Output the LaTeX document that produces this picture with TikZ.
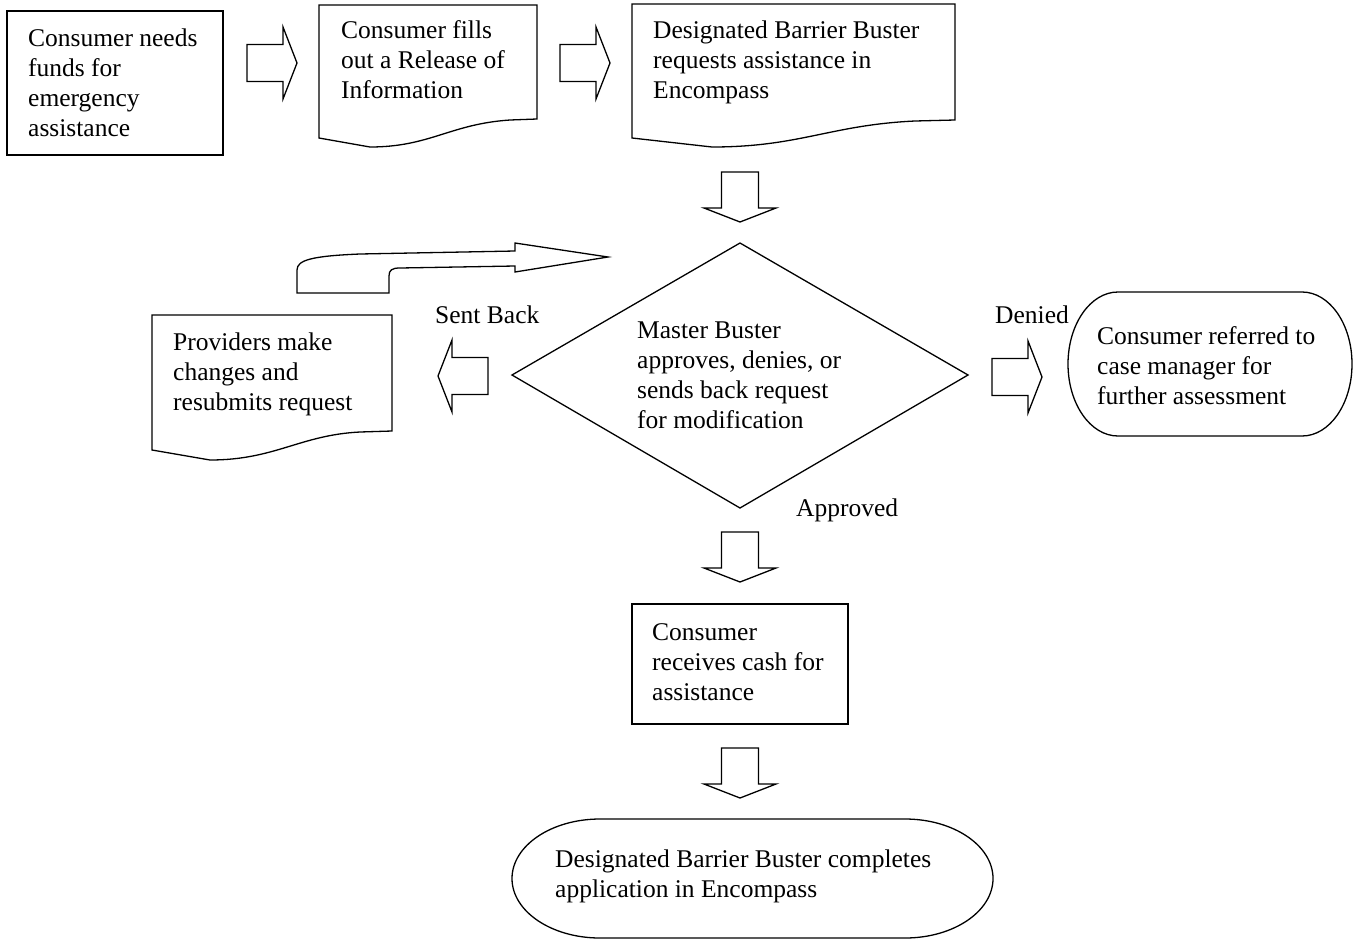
\documentclass[tikz,border=0pt]{standalone}
\usepackage{fontspec}
\setmainfont{Liberation Serif}
\begin{document}
\begin{tikzpicture}[x=1pt,y=-1pt,
  shp/.style={draw=black,line width=1.3pt,fill=white,line join=miter},
  barr/.style={draw=black,line width=1.3pt,fill=white,line join=miter},
  txt/.style={anchor=base west,align=left,inner sep=0pt,font=\fontsize{25.5}{30}\selectfont},
  lbl/.style={anchor=base west,inner sep=0pt,font=\fontsize{25.5}{30}\selectfont}]
\useasboundingbox (0,0) rectangle (1359,940);
\fill[white] (0,0) rectangle (1359,940);

% Box 1
\node[shp,minimum width=216pt,minimum height=144pt,inner sep=0pt] (b1) at (115,83) {};
\node[txt] (t1) at (28,136) {Consumer needs\\funds for\\emergency\\assistance};

% Document 2
\draw[shp] (319,5) coordinate (d2) -- (537,5) -- (537,119) -- (510,120)
  .. controls (450,124) and (430,147) .. (370,147) -- (319,138) -- cycle;
\node[txt] (t2) at (341,98) {Consumer fills\\out a Release of\\Information};

% Document 3
\draw[shp] (632,4) coordinate (d3) -- (955,4) -- (955,120) -- (915,121)
  .. controls (830,125) and (800,147) .. (712,147) -- (632,138) -- cycle;
\node[txt] (t3) at (653,98) {Designated Barrier Buster\\requests assistance in\\Encompass};

% Diamond
\draw[shp] (512,375) coordinate (dl) -- (740,243) coordinate (dt) -- (968,375) coordinate (dr) -- (740,508) coordinate (db) -- cycle;
\node[txt] (t4) at (637,428) {Master Buster\\approves, denies, or\\sends back request\\for modification};

% Document 4 (Providers)
\draw[shp] (152,315) coordinate (d4) -- (392,315) -- (392,431) -- (360,432)
  .. controls (300,435) and (275,460) .. (210,460) -- (152,450) -- cycle;
\node[txt] (t5) at (173,410) {Providers make\\changes and\\resubmits request};

% Terminal right
\draw[shp] (1118,292) coordinate (tr) -- (1302,292) arc[start angle=-90,end angle=90,x radius=50,y radius=72]
  -- (1118,436) arc[start angle=90,end angle=270,x radius=50,y radius=72] -- cycle;
\node[txt] (t6) at (1097,404) {Consumer referred to\\case manager for\\further assessment};

% Box 5
\node[shp,minimum width=216pt,minimum height=120pt,inner sep=0pt] (b5) at (740,664) {};
\node[txt] (t7) at (652,700) {Consumer\\receives cash for\\assistance};

% Terminal bottom
\draw[shp] (600,819) coordinate (tb) -- (905,819) arc[start angle=-90,end angle=90,x radius=88,y radius=59.5]
  -- (600,938) arc[start angle=90,end angle=270,x radius=88,y radius=59.5] -- cycle;
\node[txt] (t8) at (555,897) {Designated Barrier Buster completes\\application in Encompass};

% Labels
\node[lbl] (lsb) at (435,323) {Sent Back};
\node[lbl] (lde) at (995,323) {Denied};
\node[lbl] (lap) at (796,516) {Approved};

% Block arrows
\coordinate (a1) at (247,63);
\coordinate (a2) at (560,63);
\coordinate (a3) at (992,377);
\coordinate (a4) at (488,376);
\coordinate (a5) at (740,172);
\coordinate (a6) at (740,532);
\coordinate (a7) at (740,748);
\foreach \c in {a1,a2,a3}{
  \draw[barr] (\c) ++(0,-18.5) -- ++(36,0) -- ++(0,-17.5) -- ++(14,36) -- ++(-14,36) -- ++(0,-17.5) -- ++(-36,0) -- cycle;
}
\draw[barr] (a4) ++(0,-18.5) -- ++(-36,0) -- ++(0,-17.5) -- ++(-14,36) -- ++(14,36) -- ++(0,-17.5) -- ++(36,0) -- cycle;
\foreach \c in {a5,a6,a7}{
  \draw[barr] (\c) ++(-18.5,0) -- ++(0,36) -- ++(-17.5,0) -- ++(36,14) -- ++(36,-14) -- ++(-17.5,0) -- ++(0,-36) -- cycle;
}

% Loop arrow
\draw[barr] (297,293) -- (297,270) .. controls (297,260) and (312,256) .. (360,254)
  -- (515,251) -- (515,243) -- (608,257) -- (515,272) -- (515,266) -- (400,268)
  .. controls (392,268) and (389,270) .. (389,276) -- (389,293) -- cycle;
\end{tikzpicture}
\end{document}
